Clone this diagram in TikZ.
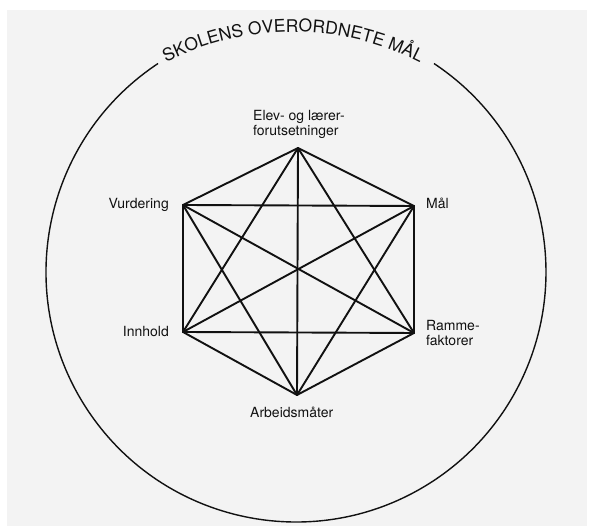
\documentclass[tikz,border=0pt]{standalone}
\usepackage{fontspec}
\setmainfont{TeX Gyre Heros}
\usetikzlibrary{decorations.text}
\definecolor{bgc}{HTML}{F3F3F3}
\definecolor{ink}{HTML}{111111}
\begin{document}
\begin{tikzpicture}[x=1pt,y=1pt,
  edge/.style={draw=ink,line width=1.9pt,line cap=round,line join=round},
  rim/.style={draw=ink,line width=1.4pt},
  lab/.style={inner sep=0pt,font=\fontsize{14}{15}\selectfont,text=ink,align=left}]
\useasboundingbox (0,0) rectangle (589,526);
\fill[white] (0,0) rectangle (589,526);
\fill[bgc] (7,0) rectangle (587,516);
% centres
\coordinate (c) at (296,254);
\coordinate (tc) at (293,214);
% outer circle with a gap for the title
\draw[rim] (c) ++(123.5:250) arc[start angle=123.5,end angle=416.5,radius=250];
\path[decorate,decoration={text along path,text align=center,
  text={|\fontsize{17.5}{17.5}\selectfont\color{ink}|SKOLENS OVERORDNETE MÅL}}]
  (tc) ++(119:280) arc[start angle=119,end angle=61,radius=280];
% hexagon vertices
\coordinate (T) at (298,378);
\coordinate (UL) at (183,321);
\coordinate (UR) at (414,320);
\coordinate (LL) at (183,194);
\coordinate (LR) at (414,193);
\coordinate (B) at (297,131);
% all connections
\foreach \a/\b in {T/UL,T/UR,T/LL,T/LR,T/B,UL/UR,UL/LL,UL/LR,UL/B,UR/LL,UR/LR,UR/B,LL/LR,LL/B,LR/B}
  \draw[edge] (\a) -- (\b);
% labels
\node[lab,anchor=north west] (lT) at (253,416) {Elev- og lærer-\\forutsetninger};
\node[lab,anchor=north east] (lUL) at (169,328) {Vurdering};
\node[lab,anchor=north east] (lLL) at (169,200) {Innhold};
\node[lab,anchor=north west] (lUR) at (426,328) {Mål};
\node[lab,anchor=north west] (lLR) at (426,206) {Ramme-\\faktorer};
\node[lab,anchor=north west] (lB) at (250,119) {Arbeidsmåter};
\end{tikzpicture}
\end{document}
